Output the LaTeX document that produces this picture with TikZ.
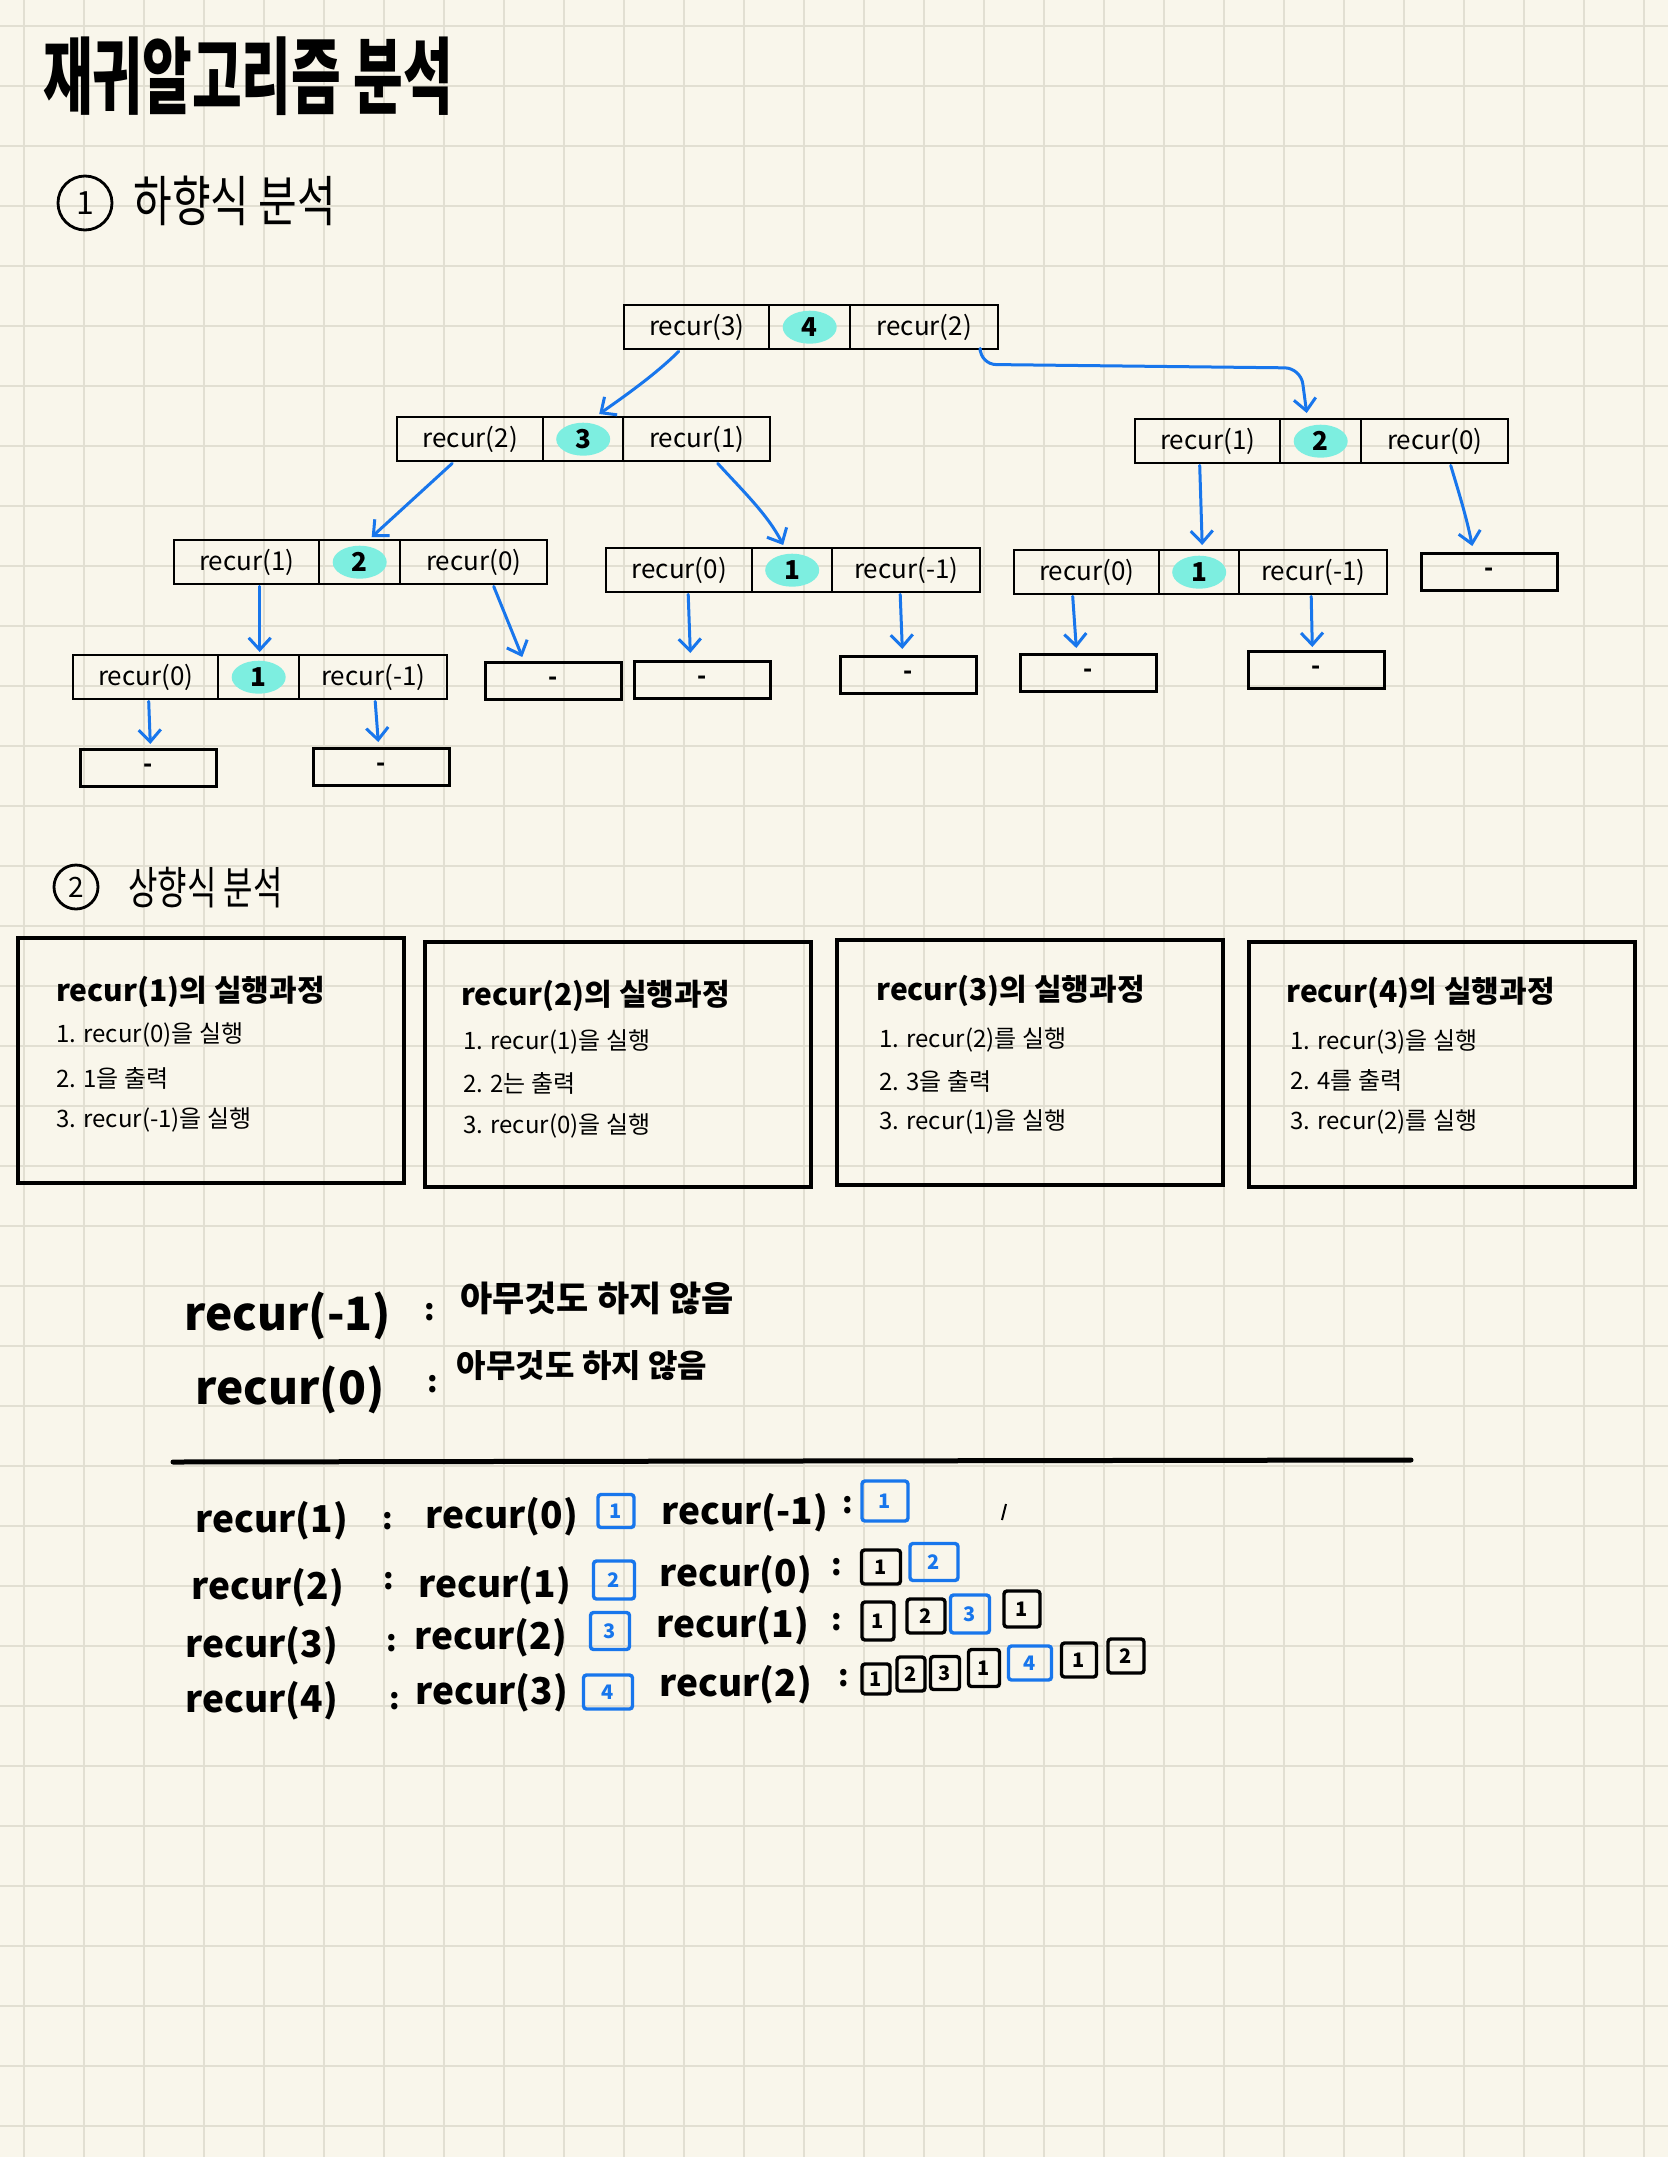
\documentclass[tikz,border=0pt]{standalone}
\usepackage{fontspec}
\usepackage{graphicx}
\setmainfont{Noto Sans CJK KR}
\usetikzlibrary{arrows.meta,shapes.geometric,calc}
\definecolor{paper}{RGB}{249,246,235}
\definecolor{gridc}{RGB}{226,223,210}
\definecolor{pen}{RGB}{24,118,236}
\definecolor{hlc}{RGB}{125,238,224}
\newcommand\fsz[1]{\fontsize{#1}{#1}\selectfont}
\newcommand\treebox[9]{%
  \pgfmathsetmacro\tbwa{(#4-#2)/2}%
  \pgfmathsetmacro\tbwb{(#5-#4)/2}%
  \pgfmathsetmacro\tbwc{(#6-#5)/2}%
  \node[cell, minimum width=\tbwa pt] (#1a) at (#2,#3) {#7};
  \node[cell, minimum width=\tbwb pt] (#1b) at (#4,#3) {};
  \node[cell, minimum width=\tbwc pt] (#1c) at (#5,#3) {#9};
  \node[hl] (#1n) at (#1b.center) {#8};
}
\begin{document}
\begin{tikzpicture}[x=0.5pt,y=-0.5pt,
  cell/.style={draw=black, line width=1.2pt, minimum height=22pt, inner sep=0pt, anchor=north west, font=\fsz{13}},
  hl/.style={ellipse, fill=hlc, minimum width=27pt, minimum height=16.5pt, inner sep=0pt, font=\fsz{13}\bfseries},
  leaf/.style={draw=black, line width=1.3pt, minimum width=68pt, minimum height=18.5pt, inner sep=0pt, anchor=north west, font=\fsz{12}\bfseries},
  arr/.style={draw=pen, line width=1.5pt, -{Straight Barb[length=6pt,width=11pt]}, line cap=round, line join=round},
  panel/.style={draw=black, line width=2pt, anchor=north west, inner sep=0pt, minimum width=193pt, minimum height=122.5pt},
  ptitle/.style={anchor=west, inner sep=0pt, font=\fsz{15}\bfseries},
  pline/.style={anchor=west, inner sep=0pt, font=\fsz{12}},
  big/.style={inner sep=0pt, font=\fsz{23}\bfseries},
  rowt/.style={inner sep=0pt, font=\fsz{18.5}\bfseries},
  colon/.style={inner sep=0pt, font=\fsz{15}\bfseries},
  nb/.style={draw=black, line width=1.7pt, rounded corners=1.5pt, inner sep=0pt, font=\fsz{10}\bfseries},
  nbb/.style={nb, draw=pen, text=pen}
]
\fill[paper] (0,0) rectangle (1668,2157);
\useasboundingbox (0,0) rectangle (1668,2157);
\foreach \i in {0,...,27} \draw[gridc, line width=1pt] ({24+60*\i},0) -- ({24+60*\i},2157);
\foreach \j in {0,...,35} \draw[gridc, line width=1pt] (0,{26+60*\j}) -- (1668,{26+60*\j});

% title and headings
\node[inner sep=0pt] (title) at (248,76) {\fsz{27}\bfseries\scalebox{1}[1.55]{재귀알고리즘 분석}};
\node[circle, draw, line width=1.4pt, minimum size=27pt, inner sep=0pt, font=\fsz{16}] (h1c) at (85,203) {1};
\node[anchor=west, inner sep=0pt] (h1) at (133,201) {\fsz{21}\scalebox{1}[1.3]{하향식 분석}};

% tree
\treebox{R0}{623}{304}{768}{849}{997}{recur(3)}{4}{recur(2)}
\treebox{L1}{396}{416}{542}{622}{769}{recur(2)}{3}{recur(1)}
\treebox{R1}{1134}{418}{1279}{1360}{1507}{recur(1)}{2}{recur(0)}
\treebox{L2}{173}{539}{318}{399}{546}{recur(1)}{2}{recur(0)}
\treebox{M2}{605}{547}{751}{831}{979}{recur(0)}{1}{recur(-1)}
\treebox{R2}{1013}{549}{1158}{1238}{1386}{recur(0)}{1}{recur(-1)}
\treebox{L3}{72}{654}{217}{298}{446}{recur(0)}{1}{recur(-1)}

\node[leaf] (fA) at (79,748) {-};
\node[leaf] (fB) at (312,747) {-};
\node[leaf] (fC) at (484,661) {-};
\node[leaf] (fD) at (633,660) {-};
\node[leaf] (fE) at (839,655) {-};
\node[leaf] (fF) at (1019,653) {-};
\node[leaf] (fG) at (1247,650) {-};
\node[leaf] (fH) at (1420,552) {-};

\draw[arr] ($(R0a.south)+(-18,1)$) .. controls (655,375) and (622,398) .. ($(L1b.north)+(16,-2)$);
\draw[arr, rounded corners=8pt] ($(R0c.south)+(56,1)$) -- ++(0,13) -- ($(R1b.north)+(-20,-50)$) -- ($(R1b.north)+(-14,-5)$);
\draw[arr] ($(L1a.south)+(-18,1)$) -- ($(L2b.north)+(12,-2)$);
\draw[arr] ($(L1c.south)+(21,1)$) .. controls (742,490) and (768,515) .. ($(M2b.north)+(-9,-2)$);
\draw[arr] ($(L2a.south)+(13,1)$) -- ($(L3b.north)+(1,-2)$);
\draw[arr] ($(L2c.south)+(20,1)$) -- ($(fC.north)+(-31,-4)$);
\draw[arr] ($(L3a.south)+(3,1)$) -- ($(fA.north)+(2,-4)$);
\draw[arr] ($(L3c.south)+(2,1)$) -- ($(fB.north)+(-3,-5)$);
\draw[arr] ($(M2a.south)+(9,1)$) -- ($(fD.north)+(-12,-7)$);
\draw[arr] ($(M2c.south)+(-6,1)$) -- ($(fE.north)+(-6,-6)$);
\draw[arr] ($(R1a.south)+(-8,1)$) -- ($(R2b.north)+(3,-4)$);
\draw[arr] ($(R1c.south)+(16,1)$) .. controls (1458,490) and (1466,515) .. ($(fH.north)+(-17,-6)$);
\draw[arr] ($(R2a.south)+(-14,1)$) -- ($(fF.north)+(-12,-5)$);
\draw[arr] ($(R2c.south)+(-2,1)$) -- ($(fG.north)+(-4,-3)$);

% section 2
\node[circle, draw, line width=1.4pt, minimum size=22pt, inner sep=0pt, font=\fsz{14}] (h2c) at (76,887) {2};
\node[anchor=west, inner sep=0pt] (h2) at (128,888) {\fsz{16}\scalebox{1}[1.4]{상향식 분석}};

\node[panel] (P1) at (16,936) {};
\node[panel] (P2) at (423,940) {};
\node[panel] (P3) at (835,938) {};
\node[panel] (P4) at (1247,940) {};

\node[ptitle] (P1t) at (56,992) {recur(1)의 실행과정};
\node[pline] (P1a) at (56,1035) {1. recur(0)을 실행};
\node[pline] (P1b) at (56,1078) {2. 1을 출력};
\node[pline] (P1c) at (56,1120) {3. recur(-1)을 실행};

\node[ptitle] (P2t) at (461,996) {recur(2)의 실행과정};
\node[pline] (P2a) at (463,1042) {1. recur(1)을 실행};
\node[pline] (P2b) at (463,1083) {2. 2는 출력};
\node[pline] (P2c) at (463,1126) {3. recur(0)을 실행};

\node[ptitle] (P3t) at (876,991) {recur(3)의 실행과정};
\node[pline] (P3a) at (879,1040) {1. recur(2)를 실행};
\node[pline] (P3b) at (879,1081) {2. 3을 출력};
\node[pline] (P3c) at (879,1122) {3. recur(1)을 실행};

\node[ptitle] (P4t) at (1286,993) {recur(4)의 실행과정};
\node[pline] (P4a) at (1290,1042) {1. recur(3)을 실행};
\node[pline] (P4b) at (1290,1080) {2. 4를 출력};
\node[pline] (P4c) at (1290,1122) {3. recur(2)를 실행};

% section 3
\node[big] (n1) at (288,1316) {recur(-1)};
\node[colon] (n1c) at (430,1312) {:};
\node[inner sep=0pt, font=\fsz{17.5}\bfseries] (t1) at (597,1298) {아무것도 하지 않음};
\node[big] (n2) at (290,1390) {recur(0)};
\node[colon] (n2c) at (433,1384) {:};
\node[inner sep=0pt, font=\fsz{16}\bfseries] (t2) at (582,1366) {아무것도 하지 않음};

\draw[line width=2.5pt, line cap=round] (173,1462) -- (1411,1460);

% section 4
\node[rowt] (a1) at (272,1521) {recur(1)};
\node[colon] (a1c) at (388,1521) {:};
\node[rowt] (a1l) at (502,1517) {recur(0)};
\node[nbb, minimum width=18pt, minimum height=16.5pt] (a1v) at (616,1511) {1};
\node[rowt] (a1r) at (745,1513) {recur(-1)};
\node[colon] (a1rc) at (848,1505) {:};
\node[nbb, minimum width=23pt, minimum height=20pt] (a1o1) at (885,1501) {1};
\draw[line width=1pt] (1002,1520) -- (1006,1504);

\node[rowt] (a2) at (268,1588) {recur(2)};
\node[colon] (a2c) at (389,1581) {:};
\node[rowt] (a2l) at (495,1586) {recur(1)};
\node[nbb, minimum width=20.5pt, minimum height=19pt] (a2v) at (614,1580) {2};
\node[rowt] (a2r) at (736,1575) {recur(0)};
\node[colon] (a2rc) at (837,1567) {:};
\node[nb, minimum width=19.5pt, minimum height=17pt] (a2o1) at (881,1567) {1};
\node[nbb, minimum width=24pt, minimum height=18.5pt] (a2o2) at (934,1562) {2};

\node[rowt] (a3) at (262,1646) {recur(3)};
\node[colon] (a3c) at (392,1643) {:};
\node[rowt] (a3l) at (491,1638) {recur(2)};
\node[nbb, minimum width=19.5pt, minimum height=18.5pt] (a3v) at (610,1631) {3};
\node[rowt] (a3r) at (733,1626) {recur(1)};
\node[colon] (a3rc) at (837,1622) {:};
\node[nb, minimum width=16pt, minimum height=19pt] (a3o1) at (878,1621) {1};
\node[nb, minimum width=19pt, minimum height=17pt] (a3o2) at (926,1616) {2};
\node[nbb, minimum width=19.5pt, minimum height=19pt] (a3o3) at (970,1614) {3};
\node[nb, minimum width=18pt, minimum height=18pt] (a3o4) at (1022,1609) {1};

\node[rowt] (a4) at (262,1701) {recur(4)};
\node[colon] (a4c) at (395,1701) {:};
\node[rowt] (a4l) at (492,1693) {recur(3)};
\node[nbb, minimum width=24.5pt, minimum height=17pt] (a4v) at (608,1692) {4};
\node[rowt] (a4r) at (736,1685) {recur(2)};
\node[colon] (a4rc) at (844,1678) {:};
\node[nb, minimum width=14pt, minimum height=15pt] (a4o1) at (876,1679) {1};
\node[nb, minimum width=14pt, minimum height=17pt] (a4o2) at (911,1674) {2};
\node[nb, minimum width=14.5pt, minimum height=16.5pt] (a4o3) at (945,1673) {3};
\node[nb, minimum width=15.5pt, minimum height=18.5pt] (a4o4) at (984,1668) {1};
\node[nbb, minimum width=21.5pt, minimum height=17pt] (a4o5) at (1030,1663) {4};
\node[nb, minimum width=17.5pt, minimum height=17pt] (a4o6) at (1079,1660) {1};
\node[nb, minimum width=18pt, minimum height=17pt] (a4o7) at (1126,1656) {2};
\end{tikzpicture}
\end{document}
